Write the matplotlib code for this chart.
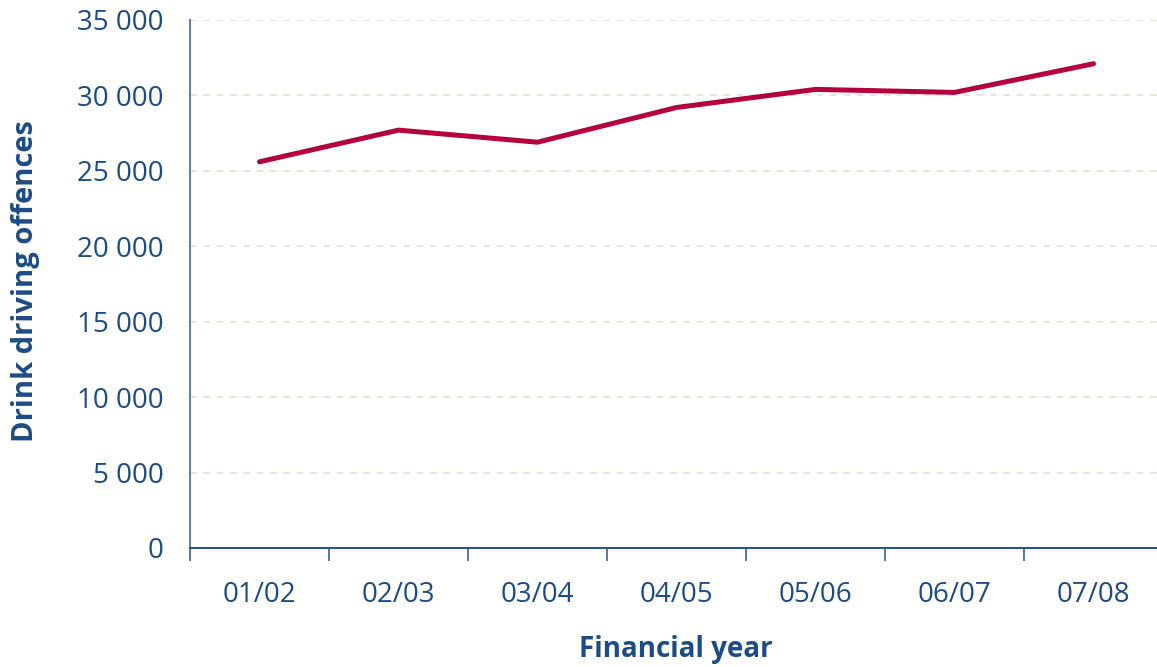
import matplotlib.pyplot as plt

# Drink driving offences per financial year
years = ['01/02', '02/03', '03/04', '04/05', '05/06', '06/07', '07/08']
offences = [25600, 27700, 26900, 29200, 30400, 30200, 32100]
y_ticks = [0, 5000, 10000, 15000, 20000, 25000, 30000, 35000]
y_labels = ['0', '5 000', '10 000', '15 000', '20 000', '25 000', '30 000', '35 000']

navy = '#1d4b85'
line_col = '#b4003f'

plt.rcParams['font.family'] = ['Open Sans', 'DejaVu Sans']

fig = plt.figure(figsize=(11.57, 6.67), dpi=100)
ax = fig.add_axes([190 / 1157, 119 / 667, 973 / 1157, 528 / 667])

x = list(range(len(years)))
ax.plot(x, offences, color=line_col, linewidth=3.6, solid_capstyle='round')

ax.set_xlim(-0.5, len(years) - 0.5)
ax.set_ylim(0, 35000)

# Category labels centred, tick marks on category boundaries
ax.set_xticks(x)
ax.set_xticklabels(years, fontsize=20, color=navy)
ax.tick_params(axis='x', which='major', length=0, pad=24)
ax.set_xticks([i - 0.5 for i in range(len(years) + 1)], minor=True)
ax.tick_params(axis='x', which='minor', length=9, width=1.2, color='#3a5f92', direction='out')

ax.set_yticks(y_ticks)
ax.set_yticklabels(y_labels, fontsize=20, color=navy)
ax.tick_params(axis='y', length=0, pad=19)

ax.grid(axis='y', linestyle=(0, (4, 4)), color='#e5e3cf', linewidth=1.2)
ax.set_axisbelow(True)

for side in ['top', 'right']:
    ax.spines[side].set_visible(False)
ax.spines['left'].set_color('#6582ae')
ax.spines['left'].set_linewidth(1.5)
ax.spines['bottom'].set_color('#2f5288')
ax.spines['bottom'].set_linewidth(1.5)

fig.text(676 / 1157, 1 - 650 / 667, 'Financial year', ha='center', va='center',
         fontsize=20, fontweight='bold', color=navy, fontstretch='condensed')
fig.text(26 / 1157, 1 - 281 / 667, 'Drink driving offences', ha='center', va='center',
         rotation=90, fontsize=21, fontweight='bold', color=navy)

fig.savefig('out.png', dpi=100)
